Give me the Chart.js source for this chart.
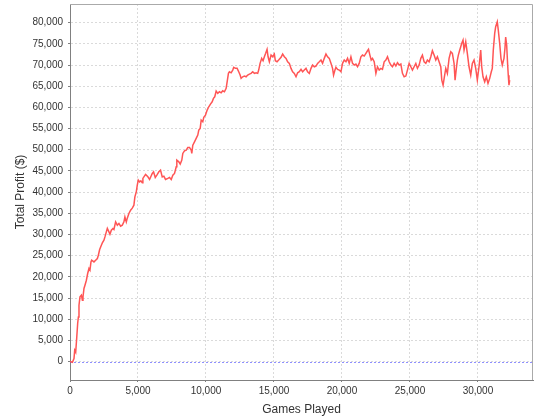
<!DOCTYPE html>
<html>
<head>
<meta charset="utf-8">
<script src="https://cdn.jsdelivr.net/npm/chart.js@4.4.1/dist/chart.umd.min.js"></script>
<style>
html,body{margin:0;padding:0;background:#ffffff;}
#wrap{width:540px;height:420px;position:relative;}
</style>
</head>
<body>
<div id="wrap"><canvas id="c" width="540" height="420"></canvas></div>
<script>
// Games played (x) and cumulative profit in $ (y)
const games = [
0,176,294,345,418,492,565,617,661,734,837,910,955,1028,1101,1204,1300,1395,1468,1542,1593,1762,1887,2012,2085,2181,2305,2379,2496,2570,2672,2746,2863,2937,3040,3157,3230,3355,3480,3598,3722,3847,3965,4038,4141,4214,4332,4457,4581,4699,4772,4875,4948,5022,5117,5213,5316,
5360,5558,5727,5852,6050,6145,6270,6388,6534,6659,6784,6901,7026,7195,7320,7445,7562,7687,7812,7856,8003,8106,8223,8296,8421,8546,8664,8788,8913,8957,9031,9155,9280,9398,9471,9574,9647,9765,9838,9963,10088,10205,10330,10455,10550,10646,
10749,10866,10991,11116,11233,11358,11483,11556,11652,11725,11850,11967,12041,12166,12290,12408,12511,12584,12702,12826,12951,13069,13193,13318,13436,13561,13686,13803,13876,13979,14097,14199,14295,14390,14493,14567,14662,14787,14904,15029,15102,15227,15345,15521,15638,15763,15888,16006,16130,
16255,16373,16497,16622,16740,16865,16989,17107,17232,17357,17474,17599,17724,17841,17966,18091,18208,18333,18458,18575,18700,18825,18942,19067,19192,19309,19383,19486,19559,19677,19801,19926,20044,20168,20293,20411,20535,20660,20778,20903,21027,21145,21270,21394,21512,21637,21762,21879,21953,22055,22151,22246,
22371,22496,22613,22738,22863,22980,23105,23230,23348,23472,23597,23715,23839,23964,24082,24206,24331,24449,24574,24698,24816,24941,25066,25183,25308,25433,25550,25675,25800,25917,26042,26167,26284,26409,26534,26651,26776,26901,27019,27143,27268,27342,27437,27533,27635,27753,27878,
28002,28120,28245,28318,28413,28487,28560,28663,28736,28810,28905,28979,29103,29221,29346,29471,29588,29713,29838,29955,30080,30205,30278,30374,30498,30616,30741,30866,30983,31057,31130,31233,31306,31424,31497,31600,31695,31791,31916,31989,32040,32114,32187,32231,32283,32334
];
const profit = [
0,-165,709,2669,2197,5503,9046,10535,13299,15259,15660,14479,15259,17243,18022,19203,20786,21967,21565,23526,23927,23526,23927,24329,25108,26454,27470,28013,28651,29431,30612,31415,30612,30068,31013,31415,31178,32974,32194,32596,31958,32194,32974,34155,32974,33847,34958,35737,36209,36918,38878,40060,41642,42823,42422,42658,42186,
43225,44169,43603,42988,44406,44784,43461,44004,44784,45185,43603,43769,42988,43225,43461,42988,44004,44406,45965,47547,47146,46602,47547,49130,49744,49909,50547,50547,49909,49130,51090,51870,52673,53452,54633,55035,56995,56594,57633,58176,59357,60137,60774,61318,62121,62499,
63845,63302,63680,63443,63916,63680,64483,66042,68026,68404,68167,68805,69443,69207,69207,68404,67624,66845,67223,67388,67223,67624,67861,68026,68404,68026,68167,68026,68805,70388,71569,71002,71947,72750,73694,71947,70766,72348,71947,72584,71002,70766,71167,71805,72584,71947,71569,70766,70388,
69207,68404,68026,67223,68167,68404,68970,68404,68805,69207,68404,68026,69207,69986,69585,69750,70388,70766,71167,70388,71569,72584,71947,71569,70388,69207,67624,68805,69443,68970,68805,68404,70388,71167,70766,71569,70388,71947,70388,69986,70222,69585,70388,71947,72348,72112,72750,73364,73694,72348,71167,71569,
70766,68026,69585,68805,69207,68970,70766,71167,71947,70766,69986,69585,70388,69750,70529,69986,70222,68026,67223,67388,68805,70388,69585,68805,69585,70388,69207,69986,71569,72348,70766,70388,71167,70766,71947,73364,72348,71167,71947,70766,69585,66441,65262,67223,69207,68000,71569,
73128,72750,70388,66441,69207,71167,72348,73530,74309,75112,75891,73530,75490,72750,69585,67624,70388,71167,69207,66441,69585,73530,69585,67223,66042,67223,65664,66845,68404,69207,73530,77474,79033,80214,78253,75112,71569,69986,71569,73990,76600,74700,70000,67600,65262,66441
];
const xTickValues = [0, 5000, 10000, 15000, 20000, 25000, 30000];
const yTickValues = [0, 5000, 10000, 15000, 20000, 25000, 30000, 35000, 40000, 45000, 50000, 55000, 60000, 65000, 70000, 75000, 80000];
const xRange = [0, 34050];
const yRange = [-4350, 84400];
const baseline = 0;
const xTitle = 'Games Played';
const yTitle = 'Total Profit ($)';

const fmt = v => Math.round(v).toString().replace(/\B(?=(\d{3})+(?!\d))/g, ',');

const points = games.map((g, i) => ({x: g, y: profit[i]}));

const zeroLine = {
  id: 'zeroLine',
  beforeDatasetsDraw(chart) {
    const {ctx, chartArea, scales} = chart;
    const y = Math.round(scales.y.getPixelForValue(baseline)) + 0.5;
    ctx.save();
    ctx.strokeStyle = 'rgba(70,70,255,0.6)';
    ctx.lineWidth = 1;
    ctx.setLineDash([2, 2]);
    ctx.beginPath();
    ctx.moveTo(chartArea.left, y);
    ctx.lineTo(chartArea.right, y);
    ctx.stroke();
    ctx.restore();
  }
};

const outline = {
  id: 'outline',
  afterDraw(chart) {
    const {ctx, chartArea} = chart;
    ctx.save();
    ctx.strokeStyle = '#aaaaaa';
    ctx.lineWidth = 1;
    ctx.beginPath();
    ctx.moveTo(chartArea.left, chartArea.top + 0.5);
    ctx.lineTo(chartArea.right - 0.5, chartArea.top + 0.5);
    ctx.lineTo(chartArea.right - 0.5, chartArea.bottom);
    ctx.stroke();
    ctx.restore();
  }
};

const tickFont = {family: "'Liberation Sans', Arial, sans-serif", size: 10};
const titleFont = {family: "'Liberation Sans', Arial, sans-serif", size: 12};

new Chart(document.getElementById('c'), {
  type: 'line',
  data: {
    datasets: [{
      data: points,
      borderColor: '#ff5555',
      borderWidth: 1.5,
      pointRadius: 0,
      tension: 0,
      fill: false
    }]
  },
  options: {
    responsive: false,
    devicePixelRatio: 1,
    animation: false,
    layout: {padding: {left: 0, right: 7, top: 4, bottom: 0}},
    plugins: {legend: {display: false}, tooltip: {enabled: false}},
    scales: {
      x: {
        type: 'linear',
        min: xRange[0],
        max: xRange[1],
        afterBuildTicks: s => { s.ticks = xTickValues.map(v => ({value: v})); },
        afterFit: s => { s.height = 40; s.paddingLeft = 0; s.paddingRight = 0; },
        ticks: {font: tickFont, color: '#333333', padding: 3, maxRotation: 0, autoSkip: false, callback: v => fmt(v)},
        grid: {color: '#dadada', lineWidth: 1, tickLength: 2, tickColor: '#808080', drawTicks: true},
        border: {display: true, color: '#808080', width: 1, dash: [2, 2]},
        title: {display: true, text: xTitle, font: titleFont, color: '#333333', padding: {top: 0, bottom: 3}}
      },
      y: {
        type: 'linear',
        min: yRange[0],
        max: yRange[1],
        afterBuildTicks: s => { s.ticks = yTickValues.map(v => ({value: v})); },
        afterFit: s => { s.width = 70; s.paddingTop = 0; s.paddingBottom = 0; },
        ticks: {font: tickFont, color: '#333333', padding: 5, autoSkip: false, callback: v => fmt(v)},
        grid: {color: '#dadada', lineWidth: 1, tickLength: 2, tickColor: '#808080', drawTicks: true},
        border: {display: true, color: '#808080', width: 1, dash: [2, 2]},
        title: {display: true, text: yTitle, font: titleFont, color: '#333333', padding: {top: 13, bottom: 0}}
      }
    }
  },
  plugins: [zeroLine, outline]
});
</script>
</body>
</html>
